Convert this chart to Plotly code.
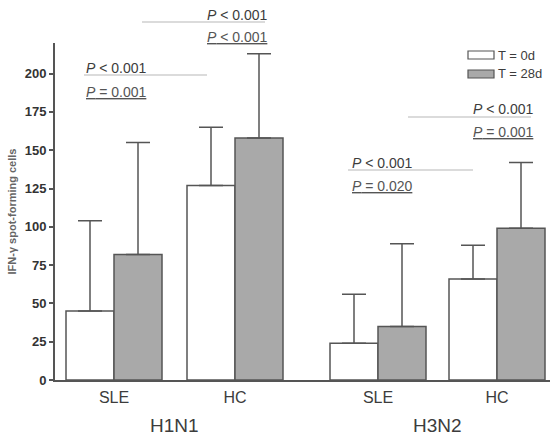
import plotly.graph_objects as go

# ---- data ----
categories = ["SLE", "HC", "SLE", "HC"]
groups = ["H1N1", "H3N2"]
mean_t0 = [45, 127, 24, 66]
sd_t0 = [59, 38, 32, 22]
mean_t28 = [82, 158, 35, 99]
sd_t28 = [73, 55, 54, 43]
p_top = ["<i>P</i> < 0.001", "<i>P</i> < 0.001", "<i>P</i> < 0.001", "<i>P</i> < 0.001"]
p_bottom = ["<i>P</i> = 0.001", "<i>P</i> < 0.001", "<i>P</i> = 0.020", "<i>P</i> = 0.001"]
y_ticks = [0, 25, 50, 75, 100, 125, 150, 175, 200]

# layout positions (x axis units)
positions = [0.59, 1.80, 3.23, 4.42]
bar_w = 0.48

FONT = "Arial, Liberation Sans, sans-serif"
EDGE = "#555555"
TXT = "#3c3c3c"

fig = go.Figure()
fig.add_trace(go.Bar(
    x=positions, y=mean_t0, width=bar_w, offset=-bar_w,
    marker=dict(color="white", line=dict(color=EDGE, width=1.5)),
    error_y=dict(type="data", array=sd_t0, arrayminus=[0] * len(sd_t0), symmetric=False,
                 color=EDGE, thickness=1.5, width=12),
    name="T = 0d", showlegend=False))
fig.add_trace(go.Bar(
    x=positions, y=mean_t28, width=bar_w, offset=0,
    marker=dict(color="#a9a9a9", line=dict(color=EDGE, width=1.5)),
    error_y=dict(type="data", array=sd_t28, arrayminus=[0] * len(sd_t28), symmetric=False,
                 color=EDGE, thickness=1.5, width=12),
    name="T = 28d", showlegend=False))

L, R, T, B = 55, 2, 43, 56
W, H = 552, 436
pw, ph = W - L - R, H - T - B


def px(x):
    return (x - L) / pw


def py(y):
    return (H - B - y) / ph


annotations = []
shapes = []
# P-value labels: (text x left px, top y px, bottom y px, line x0, x1, line y)
p_layout = [
    (84, 68, 92, 84, 207, 75),
    (205, 15, 37, 142, 265, 22),
    (350, 163, 186, 348, 473, 170),
    (471, 109, 132, 408, 531, 117),
]
for i, (tx, ty1, ty2, lx0, lx1, ly) in enumerate(p_layout):
    shapes.append(dict(type="line", xref="paper", yref="paper", x0=px(lx0), x1=px(lx1),
                       y0=py(ly), y1=py(ly), line=dict(color="#cfcfcf", width=1.5), layer="below"))
    annotations.append(dict(xref="paper", yref="paper", x=px(tx), y=py(ty1), text=p_top[i],
                            showarrow=False, xanchor="left", yanchor="middle",
                            font=dict(family=FONT, size=14, color=TXT)))
    annotations.append(dict(xref="paper", yref="paper", x=px(tx), y=py(ty2),
                            text="<u>" + p_bottom[i] + "</u>",
                            showarrow=False, xanchor="left", yanchor="middle",
                            font=dict(family=FONT, size=14, color="#555555")))

# group labels
group_centers = [(positions[0] + positions[1]) / 2, (positions[2] + positions[3]) / 2]
for g, c in zip(groups, group_centers):
    annotations.append(dict(xref="x", yref="paper", x=c, y=py(425), text=g, showarrow=False,
                            xanchor="center", yanchor="middle",
                            font=dict(family=FONT, size=19, color=TXT)))

# legend (manual)
legend_items = [("T = 0d", "white", 55), ("T = 28d", "#a9a9a9", 74)]
for label, col, yc in legend_items:
    shapes.append(dict(type="rect", xref="paper", yref="paper", x0=px(468), x1=px(494),
                       y0=py(yc + 4), y1=py(yc - 4), fillcolor=col,
                       line=dict(color=EDGE, width=1.2)))
    annotations.append(dict(xref="paper", yref="paper", x=px(496), y=py(yc), text=label,
                            showarrow=False, xanchor="left", yanchor="middle",
                            font=dict(family=FONT, size=13, color=TXT)))

fig.update_layout(
    width=W, height=H,
    margin=dict(l=L, r=R, t=T, b=B),
    paper_bgcolor="white", plot_bgcolor="white",
    barmode="overlay",
    annotations=annotations, shapes=shapes,
    font=dict(family=FONT, color=TXT),
)
fig.update_xaxes(
    range=[0, 4.95], tickvals=positions, ticktext=categories,
    showgrid=False, zeroline=False, showline=True, linecolor=EDGE, linewidth=2,
    ticks="", tickfont=dict(family=FONT, size=16, color=TXT), ticklabelstandoff=2,
)
fig.update_yaxes(
    range=[0, 220], tickvals=y_ticks, showgrid=False, zeroline=False,
    showline=True, linecolor=EDGE, linewidth=2, ticks="outside", ticklen=4,
    tickwidth=2, tickcolor=EDGE,
    tickfont=dict(family=FONT, size=13, color="#333333", weight="bold"),
    title=dict(text="<b>IFN-γ spot-forming cells</b>", standoff=6,
               font=dict(family=FONT, size=11, color="#666666")),
)

fig.write_html("out.html")
